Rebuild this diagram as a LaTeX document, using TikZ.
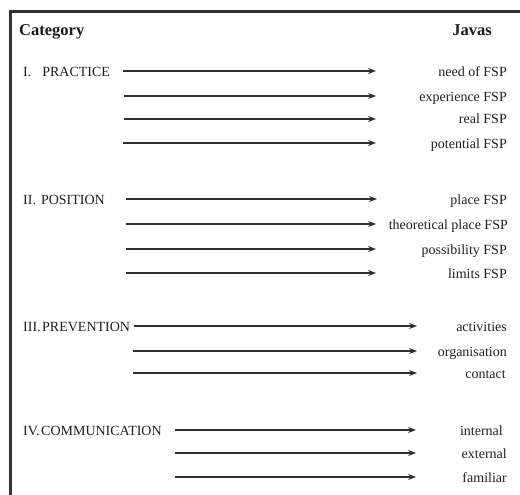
\documentclass[tikz,border=0pt]{standalone}
\usepackage{fontspec}
\setmainfont{Liberation Serif}
\usetikzlibrary{arrows.meta}
\begin{document}
\begin{tikzpicture}[x=1pt,y=-1pt,
  txt/.style={inner sep=0pt, font=\fontsize{14}{16}\selectfont, text=black!88},
  cattxt/.style={txt, anchor=base west},
  lbl/.style={txt, anchor=base east},
  hdr/.style={inner sep=0pt, font=\fontsize{16.5}{18}\selectfont\bfseries, text=black!90},
  arr/.style={-{Stealth[length=8pt,width=6pt]}, line width=1.1pt, draw=black!82}]
\useasboundingbox (0,0) rectangle (520,495);
\draw[line width=3pt, black!80] (10.8,496) -- (10.8,11.3) -- (521,11.3);
% headers
\node[hdr, anchor=base west] (cat) at (19,36) {Category};
\node[hdr, anchor=base east] (jav) at (492,35.5) {Javas};
% categories
\node[cattxt] (c1) at (23,76.5) {I.\hspace{11pt}PRACTICE};
\node[cattxt] (c2) at (23,204) {II.\hspace{5pt}POSITION};
\node[cattxt] (c3) at (23,331) {III.\hspace{1.5pt}PREVENTION};
\node[cattxt] (c4) at (23,435) {IV.\hspace{1.5pt}COMMUNICATION};
% labels
\node[lbl] (p1) at (507,76.5) {need of FSP};
\node[lbl] (p2) at (507,101.5) {experience FSP};
\node[lbl] (p3) at (507,124) {real FSP};
\node[lbl] (p4) at (507,148) {potential FSP};
\node[lbl] (q1) at (507,204) {place FSP};
\node[lbl] (q2) at (508,229) {theoretical place FSP};
\node[lbl] (q3) at (507,254) {possibility FSP};
\node[lbl] (q4) at (507,278) {limits FSP};
\node[lbl] (r1) at (507,331) {activities};
\node[lbl] (r2) at (507,356) {organisation};
\node[lbl] (r3) at (506,378) {contact};
\node[lbl] (s1) at (503,435) {internal};
\node[lbl] (s2) at (507,458) {external};
\node[lbl] (s3) at (507,482) {familiar};
% arrow end points
\coordinate (a1) at (123,71);  \coordinate (b1) at (376,71);
\coordinate (a2) at (124,96);  \coordinate (b2) at (376,96);
\coordinate (a3) at (124,119); \coordinate (b3) at (376,119);
\coordinate (a4) at (123,143); \coordinate (b4) at (376,143);
\coordinate (a5) at (126,199); \coordinate (b5) at (377,199);
\coordinate (a6) at (126,224); \coordinate (b6) at (376,224);
\coordinate (a7) at (126,249); \coordinate (b7) at (376,249);
\coordinate (a8) at (126,273); \coordinate (b8) at (376,273);
\coordinate (a9) at (134,326); \coordinate (b9) at (417,326);
\coordinate (a10) at (133,351); \coordinate (b10) at (417,351);
\coordinate (a11) at (133,373); \coordinate (b11) at (417,373);
\coordinate (a12) at (175,430); \coordinate (b12) at (416,430);
\coordinate (a13) at (175,453); \coordinate (b13) at (416,453);
\coordinate (a14) at (175,477); \coordinate (b14) at (416,477);
\foreach \i in {1,...,14} { \draw[arr] (a\i) -- (b\i); }
\end{tikzpicture}
\end{document}
